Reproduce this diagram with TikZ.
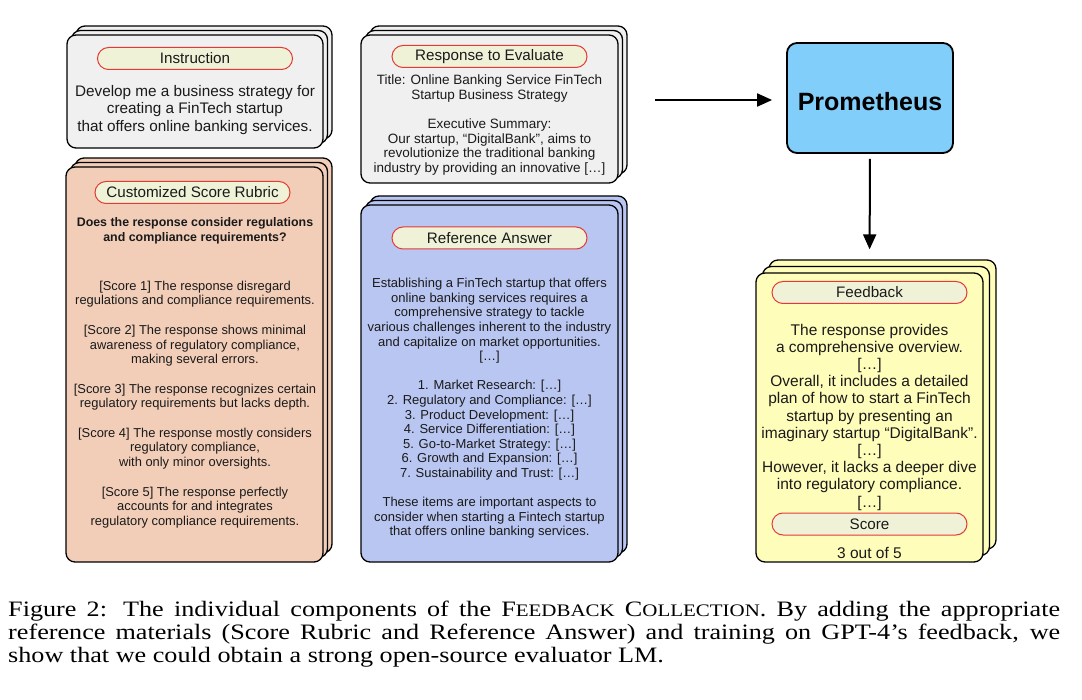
\documentclass[tikz,border=0pt]{standalone}
\usepackage{fontspec}
\usepackage{xcolor}
\usepackage{tikz}
\usetikzlibrary{arrows.meta,shadows}
\setmainfont{Liberation Sans}
\newfontfamily\capfont{Liberation Serif}[FakeStretch=1.19]
\definecolor{plaingray}{RGB}{240,240,240}
\definecolor{rubricpink}{RGB}{242,206,185}
\definecolor{answerblue}{RGB}{185,198,241}
\definecolor{feedyellow}{RGB}{255,253,186}
\definecolor{promblue}{RGB}{128,206,249}
\definecolor{tagfill}{RGB}{240,242,216}
\definecolor{tagred}{RGB}{229,57,53}
\definecolor{ink}{RGB}{26,26,26}
\newcommand{\fsize}[2]{\fontsize{#1}{#2}\selectfont}
\newcommand{\fakesc}[1]{{\fontsize{17.6}{23}\selectfont #1}}
\tikzset{
  card/.style n args={3}{draw=black, fill=#1, line width=1.3pt, rounded corners=9pt,
    copy shadow={shadow xshift=#3, shadow yshift=#3, draw=black, fill=#1, line width=1.3pt},
    copy shadow={shadow xshift=#2, shadow yshift=#2, draw=black, fill=#1, line width=1.3pt}},
  tag/.style={draw=tagred, fill=tagfill, line width=1pt, rounded corners=11pt,
    minimum width=195pt, minimum height=22pt, inner sep=0pt, text=ink,
    font=\fsize{15.2}{18}},
  body/.style={align=center, inner sep=0pt, text=ink},
  engine/.style={draw=black, fill=promblue, line width=1.8pt, rounded corners=10pt,
    minimum width=166pt, minimum height=110pt, font=\bfseries\fsize{25}{30}},
  flow/.style={line width=2pt, -{Triangle[length=15pt,width=13pt]}},
}
\begin{document}
\begin{tikzpicture}[x=1pt,y=-1pt]
                \useasboundingbox (0,0) rectangle (1082,700);
                \node[card={plaingray}{4.5pt}{9pt}, minimum width=256pt, minimum height=113pt] (instr) at (195,91.5) {};
                \node[tag] (instrtag) at (195,58.5) {Instruction};
                \node[body, font=\fsize{15.3}{17.5}] (instrtext) at (195,110) {Develop me a business strategy for\\creating a FinTech startup\\that offers online banking services.};
                \node[card={rubricpink}{4.5pt}{9pt}, minimum width=257pt, minimum height=395pt] (rubric) at (194.5,364.5) {};
                \node[tag] (rubrictag) at (192.5,192.5) {Customized Score Rubric};
                \node[body, font=\bfseries\fsize{12.4}{14.5}] (question) at (195,231) {Does the response consider regulations\\and compliance requirements?};
                \node[body, font=\fsize{12.9}{14.7}] (scores) at (195,404.5) {{[Score 1]} The response disregard\\regulations and compliance requirements.\\[14.7pt]
                  {[Score 2]} The response shows minimal\\awareness of regulatory compliance,\\making several errors.\\[14.7pt]
                  {[Score 3]} The response recognizes certain\\regulatory requirements but lacks depth.\\[14.7pt]
                  {[Score 4]} The response mostly considers\\regulatory compliance,\\with only minor oversights.\\[14.7pt]
                  {[Score 5]} The response perfectly\\accounts for and integrates\\regulatory compliance requirements.};
                \node[card={plaingray}{4.5pt}{9pt}, minimum width=257pt, minimum height=148pt] (response) at (489.5,109) {};
                \node[tag] (responsetag) at (489.5,56.5) {Response to Evaluate};
                \node[body, font=\fsize{13.5}{14.7}] (responsetext) at (489.5,125) {Title: Online Banking Service FinTech\\Startup Business Strategy\\[14.7pt]
                  Executive Summary:\\Our startup, “DigitalBank”, aims to\\revolutionize the traditional banking\\industry by providing an innovative […]};
                \node[card={answerblue}{4.5pt}{9pt}, minimum width=257pt, minimum height=357pt] (answer) at (489.5,383.5) {};
                \node[tag] (answertag) at (489.5,238) {Reference Answer};
                \node[body, font=\fsize{13}{14.6}] (answertext) at (489.5,408.5) {Establishing a FinTech startup that offers\\online banking services requires a\\comprehensive strategy to tackle\\various challenges inherent to the industry\\and capitalize on market opportunities.\\{[…]}\\[14.6pt]
                  1. Market Research: […]\\2. Regulatory and Compliance: […]\\3. Product Development: […]\\4. Service Differentiation: […]\\5. Go-to-Market Strategy: […]\\6. Growth and Expansion: […]\\7. Sustainability and Trust: […]\\[14.6pt]
                  These items are important aspects to\\consider when starting a Fintech startup\\that offers online banking services.};
                \node[engine, text height=25pt, text depth=0pt] (prom) at (870,98) {Prometheus};
                \node[card={feedyellow}{6.5pt}{13pt}, minimum width=227pt, minimum height=289pt] (feedback) at (869.5,417.5) {};
                \node[tag] (feedbacktag) at (869.5,292.5) {Feedback};
                \node[body, font=\fsize{15.5}{17.2}] (feedbacktext) at (869.5,417) {The response provides\\a comprehensive overview.\\{[…]}\\Overall, it includes a detailed\\plan of how to start a FinTech\\startup by presenting an\\imaginary startup “DigitalBank”.\\{[…]}\\However, it lacks a deeper dive\\into regulatory compliance.\\{[…]}};
                \node[tag] (scoretag) at (869.5,524) {Score};
                \node[body, font=\fsize{15.5}{17.2}] (scoretext) at (869.5,553) {3 out of 5};
                \coordinate (inputs) at (655,100);
                \draw[flow, shorten >=14pt] (inputs) -- (inputs -| prom.west);
                \draw[flow, shorten <=5pt, shorten >=23pt] (prom.south) -- (feedback.north);
                \node[anchor=north west, inner sep=0pt, text width=1052pt, align=justify, font=\capfont\fsize{22}{23}] (caption) at (8,601) {Figure 2: The individual components of the F\fakesc{EEDBACK} C\fakesc{OLLECTION}. By adding the appropriate\linebreak reference materials (Score Rubric and Reference Answer) and training on GPT-4’s feedback, we\linebreak show that we could obtain a strong open-source evaluator LM.};
            \end{tikzpicture}
\end{document}
